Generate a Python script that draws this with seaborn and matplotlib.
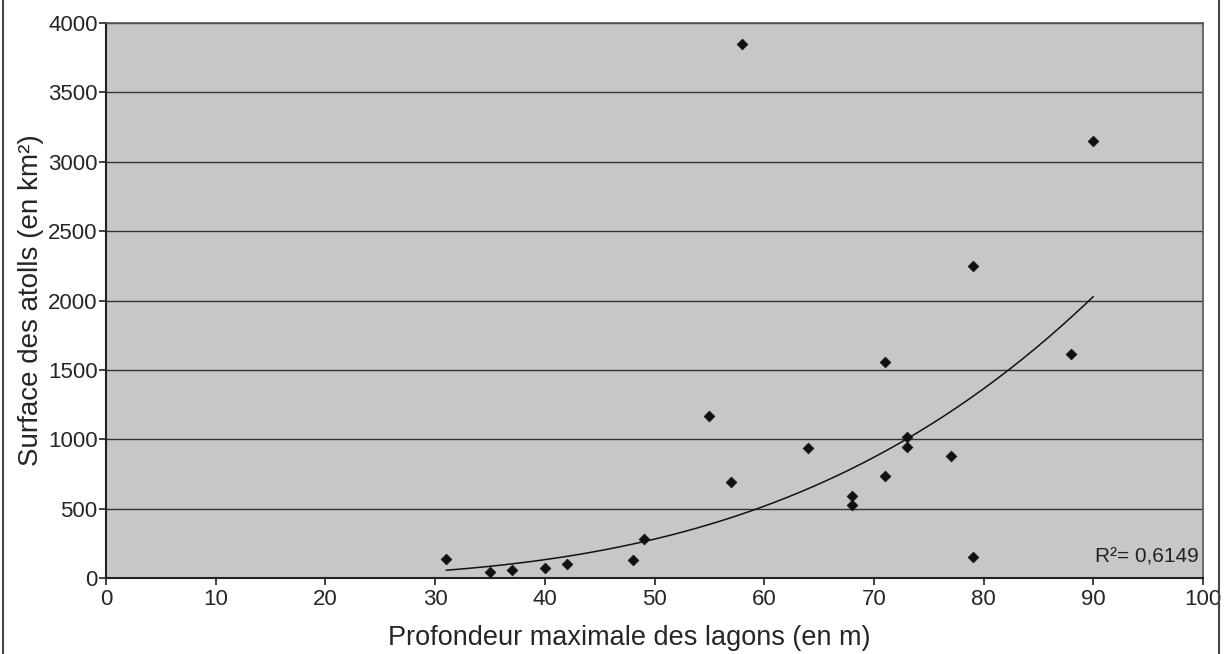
import numpy as np
import pandas as pd
import matplotlib
matplotlib.use('Agg')
import matplotlib.pyplot as plt
import seaborn as sns
from matplotlib.lines import Line2D

# Profondeur maximale des lagons (m) et surface des atolls (km²)
profondeur = [31, 35, 37, 40, 42, 48, 49, 55, 57, 58, 64, 68, 68, 71, 71, 73, 73, 77, 79, 79, 88, 90]
surface = [135, 40, 58, 75, 100, 127, 283, 1165, 694, 3850, 939, 591, 528, 1559, 737, 1019, 946, 879, 151, 2251, 1612, 3150]

data = pd.DataFrame({'Profondeur': profondeur, 'Surface': surface})

sns.set_style('white')
plt.rcParams['font.family'] = ['Liberation Sans', 'DejaVu Sans']

fig = plt.figure(figsize=(12.31, 6.54), dpi=100)
ax = fig.add_axes([0.0861, 0.1162, 0.9773 - 0.0861, 0.9648 - 0.1162])
ax.set_facecolor('#c6c7c9')

# power trendline (y = a * x^n), fitted on log-log
n, log_a = np.polyfit(np.log(data['Profondeur']), np.log(data['Surface']), 1)
xs = np.linspace(min(profondeur), max(profondeur), 200)
ax.plot(xs, np.exp(log_a) * xs ** n, color='#111111', lw=1.1, zorder=3)

sns.scatterplot(data=data, x='Profondeur', y='Surface', marker='D', s=30,
                color='#111111', edgecolor='#111111', linewidth=0.5, ax=ax, zorder=4)

ax.set_xlim(0, 100)
ax.set_ylim(0, 4000)
ax.set_xticks(range(0, 101, 10))
ax.set_yticks(range(0, 4001, 500))
ax.yaxis.grid(True, color='#333333', lw=1.0)
ax.set_axisbelow(True)

for side in ['left', 'bottom']:
    ax.spines[side].set_color('#222222')
    ax.spines[side].set_linewidth(1.5)
for side in ['top', 'right']:
    ax.spines[side].set_color('#555555')
    ax.spines[side].set_linewidth(1.2)

ax.tick_params(axis='both', direction='out', length=5, width=1.2, color='#222222',
               labelsize=16, pad=3, left=True, bottom=True)
ax.tick_params(axis='y', pad=1)

ax.set_xlabel('Profondeur maximale des lagons (en m)', fontsize=19.5)
ax.xaxis.set_label_coords(0.477, -0.085)
ax.set_ylabel('Surface des atolls (en km²)', fontsize=20, labelpad=3)

ax.text(99.6, 150, 'R²= 0,6149', fontsize=15, ha='right', va='center', color='#222222')

# outer border of the chart area
fig.add_artist(Line2D([3 / 1231, 3 / 1231], [0, 1], color='#444444', lw=1.5, transform=fig.transFigure))
fig.add_artist(Line2D([1219 / 1231, 1219 / 1231], [0, 1], color='#444444', lw=1.5, transform=fig.transFigure))

plt.savefig('out.png', dpi=100)
